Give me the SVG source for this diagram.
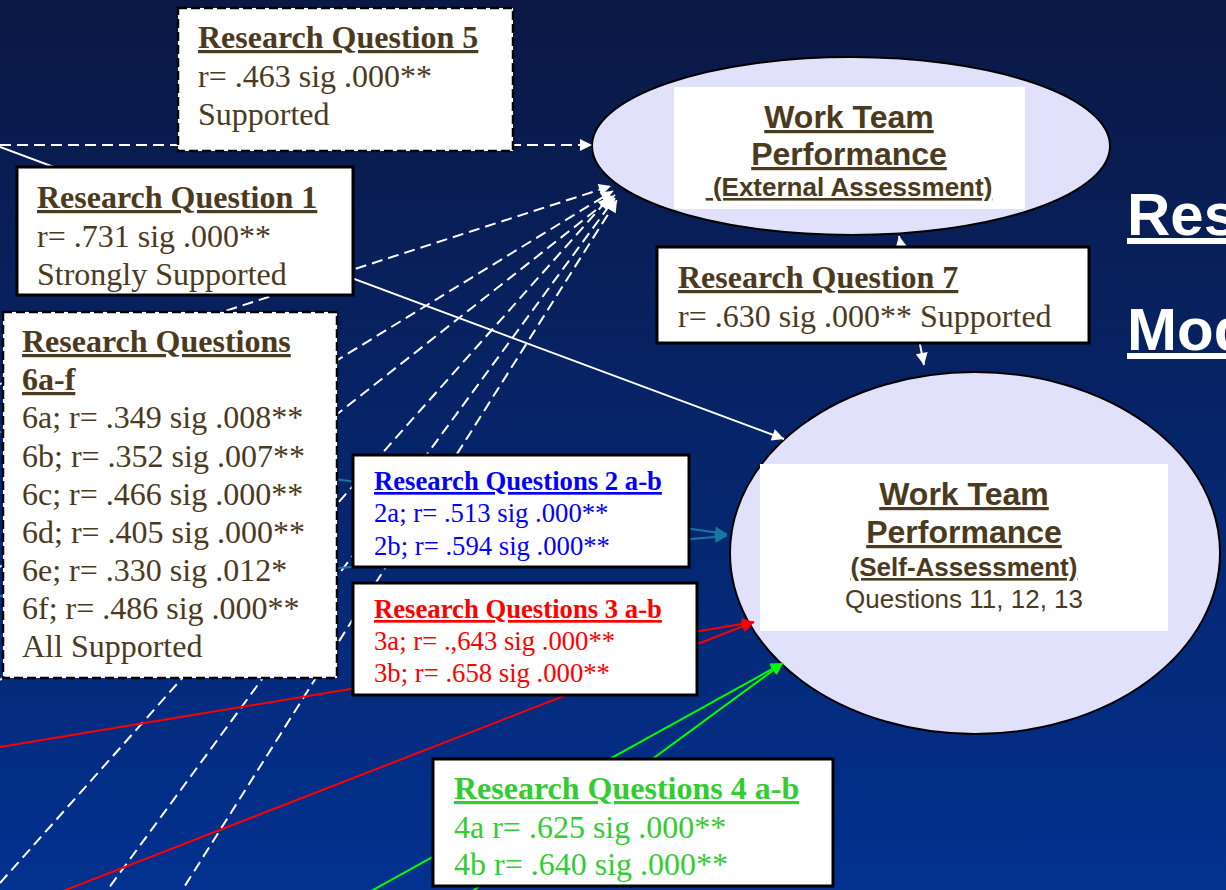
<svg xmlns="http://www.w3.org/2000/svg" width="1226" height="890" viewBox="0 0 1226 890">
<defs>
<linearGradient id="bg" x1="0" y1="0" x2="0" y2="1">
<stop offset="0" stop-color="#0b1844"/>
<stop offset="1" stop-color="#02318f"/>
</linearGradient>
<marker id="aw" viewBox="0 0 10 10" refX="10" refY="5" markerWidth="15" markerHeight="12" markerUnits="userSpaceOnUse" orient="auto-start-reverse"><path d="M0,0 L10,5 L0,10 z" fill="#ffffff"/></marker>
<marker id="at" viewBox="0 0 10 10" refX="10" refY="5" markerWidth="15" markerHeight="12" markerUnits="userSpaceOnUse" orient="auto"><path d="M0,0 L10,5 L0,10 z" fill="#1b77a0"/></marker>
<marker id="ar" viewBox="0 0 10 10" refX="10" refY="5" markerWidth="16" markerHeight="12" markerUnits="userSpaceOnUse" orient="auto"><path d="M0,0 L10,5 L0,10 z" fill="#ff0000"/></marker>
<marker id="ag" viewBox="0 0 10 10" refX="10" refY="5" markerWidth="16" markerHeight="12" markerUnits="userSpaceOnUse" orient="auto"><path d="M0,0 L10,5 L0,10 z" fill="#00ff00"/></marker>
</defs>
<style>
.ell{fill:#e1e1fb;stroke:#000;stroke-width:2}
.inner{fill:#fff}
.box{fill:#fff;stroke:#000;stroke-width:3}
.dbox{fill:#fff;stroke:#000;stroke-width:2.5;stroke-dasharray:9 4}
.tt{font-family:"Liberation Serif","Times New Roman",serif;font-weight:bold;text-decoration:underline}
.tb{font-family:"Liberation Serif","Times New Roman",serif}
.br{fill:#4b3a1d}
.ah{font-family:"Liberation Sans",Arial,sans-serif;font-weight:bold;text-decoration:underline;fill:#4b3a1d;text-anchor:middle}
.ar{font-family:"Liberation Sans",Arial,sans-serif;fill:#4b3a1d;text-anchor:middle}
.dash{stroke:#fff;stroke-width:2;stroke-dasharray:11 6;fill:none}
.solid{stroke:#fff;stroke-width:2;fill:none}
.title{font-family:"Liberation Sans",Arial,sans-serif;font-weight:bold;font-size:60px;fill:#fff;text-decoration:underline}
</style>
<rect x="0" y="0" width="1226" height="890" fill="url(#bg)"/>

<g id="title">
<text class="title" x="1127" y="235">Res</text>
<text class="title" x="1127" y="350">Mod</text>
</g>

<g id="wtp-external">
<ellipse class="ell" cx="851" cy="146" rx="259" ry="89"/>
<rect class="inner" x="674" y="87" width="351" height="122"/>
<text class="ah" x="849" y="128" font-size="32">Work Team</text>
<text class="ah" x="849" y="165" font-size="32">Performance</text>
<text class="ah" x="849" y="196" font-size="26" style="white-space:pre"> (External Assessment)</text>
</g>

<g id="wtp-self">
<ellipse class="ell" cx="975" cy="553" rx="245" ry="181"/>
<rect class="inner" x="760" y="464" width="408" height="167"/>
<text class="ah" x="964" y="505" font-size="32">Work Team</text>
<text class="ah" x="964" y="543" font-size="32">Performance</text>
<text class="ah" x="964" y="576" font-size="26">(Self-Assessment)</text>
<text class="ar" x="964" y="608" font-size="26">Questions 11, 12, 13</text>
</g>

<g id="connectors">
<path class="dash" d="M0 145 L592 145" marker-end="url(#aw)"/>
<path class="solid" d="M0 147 L784 439" marker-end="url(#aw)"/>
<path class="dash" d="M0 384 L611 186" marker-end="url(#aw)"/>
<path class="dash" d="M0 567 L613 191" marker-end="url(#aw)"/>
<path class="dash" d="M0 680 L615 195" marker-end="url(#aw)"/>
<path class="dash" d="M0 883 L610 197" marker-end="url(#aw)"/>
<path class="dash" d="M100 900 L615 198" marker-end="url(#aw)"/>
<path class="dash" d="M176 900 L617 200" marker-end="url(#aw)"/>
<path class="solid" d="M899 236 L924 365" marker-start="url(#aw)" marker-end="url(#aw)"/>
<path d="M0 432 L727 534" stroke="#1b77a0" stroke-width="2" fill="none" marker-end="url(#at)"/>
<path d="M0 596 L727 536" stroke="#1b77a0" stroke-width="2" fill="none" marker-end="url(#at)"/>
<path d="M0 747 L754 622" stroke="#ff0000" stroke-width="2" fill="none" marker-end="url(#ar)"/>
<path d="M40 900 L754 622" stroke="#ff0000" stroke-width="2" fill="none" marker-end="url(#ar)"/>
<path d="M355 900 L783 663" stroke="#00ff00" stroke-width="2" fill="none" marker-end="url(#ag)"/>
<path d="M470 893 L783 663" stroke="#00ff00" stroke-width="2" fill="none" marker-end="url(#ag)"/>
</g>

<g id="rq5">
<rect class="dbox" x="178" y="8" width="335" height="143"/>
<text class="tt br" x="198" y="48" font-size="32">Research Question 5</text>
<text class="tb br" x="198" y="87" font-size="32">r= .463 sig .000**</text>
<text class="tb br" x="198" y="125" font-size="32">Supported</text>
</g>

<g id="rq1">
<rect class="box" x="17" y="167" width="336" height="128"/>
<text class="tt br" x="37" y="208" font-size="32">Research Question 1</text>
<text class="tb br" x="37" y="247" font-size="32">r= .731 sig .000**</text>
<text class="tb br" x="37" y="285" font-size="32">Strongly Supported</text>
</g>

<g id="rq6">
<rect class="dbox" x="3" y="312" width="334" height="366"/>
<text class="tt br" x="22" y="352" font-size="32">Research Questions</text>
<text class="tt br" x="22" y="390" font-size="32">6a-f</text>
<text class="tb br" x="22" y="428" font-size="32">6a; r= .349 sig .008**</text>
<text class="tb br" x="22" y="467" font-size="32">6b; r= .352 sig .007**</text>
<text class="tb br" x="22" y="505" font-size="32">6c; r= .466 sig .000**</text>
<text class="tb br" x="22" y="543" font-size="32">6d; r= .405 sig .000**</text>
<text class="tb br" x="22" y="581" font-size="32">6e; r= .330 sig .012*</text>
<text class="tb br" x="22" y="619" font-size="32">6f; r= .486 sig .000**</text>
<text class="tb br" x="22" y="657" font-size="32">All Supported</text>
</g>

<g id="rq7">
<rect class="box" x="657" y="247" width="432" height="96"/>
<text class="tt br" x="678" y="288" font-size="32">Research Question 7</text>
<text class="tb br" x="678" y="327" font-size="32">r= .630 sig .000** Supported</text>
</g>

<g id="rq2">
<rect class="box" x="353" y="455" width="336" height="112"/>
<text class="tt" x="374" y="490" font-size="26.7" fill="#0000ff">Research Questions 2 a-b</text>
<text class="tb" x="374" y="522" font-size="26.7" fill="#0000ff">2a; r= .513 sig .000**</text>
<text class="tb" x="374" y="555" font-size="26.7" fill="#0000ff">2b; r= .594 sig .000**</text>
</g>

<g id="rq3">
<rect class="box" x="353" y="583" width="344" height="112"/>
<text class="tt" x="374" y="618" font-size="26.7" fill="#ff0000">Research Questions 3 a-b</text>
<text class="tb" x="374" y="650" font-size="26.7" fill="#ff0000">3a; r= .,643 sig .000**</text>
<text class="tb" x="374" y="682" font-size="26.7" fill="#ff0000">3b; r= .658 sig .000**</text>
</g>

<g id="rq4">
<rect class="box" x="433" y="759" width="400" height="127"/>
<text class="tt" x="454" y="799" font-size="32" fill="#33cc33">Research Questions 4 a-b</text>
<text class="tb" x="454" y="838" font-size="32" fill="#33cc33">4a r= .625 sig .000**</text>
<text class="tb" x="454" y="875" font-size="32" fill="#33cc33">4b r= .640 sig .000**</text>
</g>
</svg>
